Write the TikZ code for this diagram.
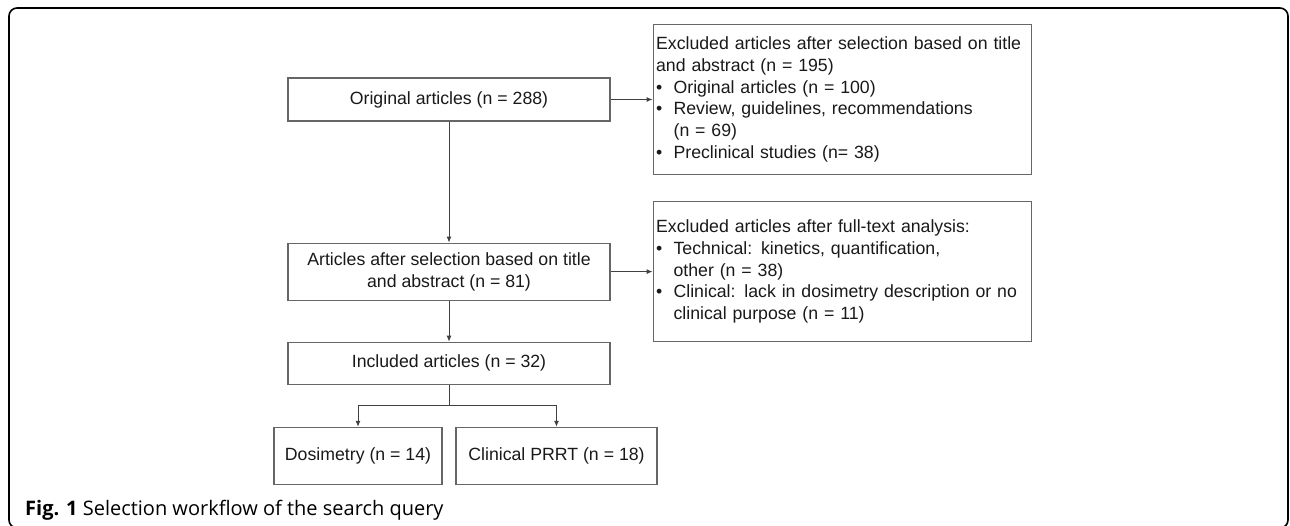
\documentclass[tikz,border=0pt]{standalone}
\usepackage{fontspec}
\setmainfont{Liberation Sans}
\newfontfamily\capfont{Open Sans}
\usetikzlibrary{positioning}
\usetikzlibrary{arrows.meta}

\newcommand{\itemline}[1]{\makebox[17.5pt][l]{\textbullet}#1}
\newcommand{\contline}[1]{\hspace*{17.5pt}#1}

\begin{document}
\begin{tikzpicture}[x=1pt,y=-1pt,node distance=42pt,
		box/.style={draw=black!60,line width=1.1pt,rectangle,minimum width=322pt,align=center,text=black!90,font=\fontsize{17.7}{21.7}\selectfont},
		excl/.style={box,align=left,text width=372pt,inner xsep=3pt},
		flow/.style={-{Latex[length=6pt,width=5pt]},draw=black!75,line width=0.9pt}]
		\useasboundingbox (0,0) rectangle (1290,525);
		\draw[line width=1.6pt,rounded corners=8pt] (9,8) rectangle (1288,528);
		\node (orig) [box,minimum height=43pt] at (449,99.5) {Original articles (n = 288)};
		\node (exc1) [excl,minimum height=150pt,right=of orig] {Excluded articles after selection based on title\\and abstract (n = 195)\\\itemline{Original articles (n = 100)}\\\itemline{Review, guidelines, recommendations}\\\contline{(n = 69)}\\\itemline{Preclinical studies (n= 38)}};
		\node (sel)  [box,minimum height=57pt,below=121pt of orig] {Articles after selection based on title\\and abstract (n = 81)};
		\node (exc2) [excl,minimum height=140pt,right=of sel] {Excluded articles after full-text analysis:\\\itemline{Technical: kinetics, quantification,}\\\contline{other (n = 38)}\\\itemline{Clinical: lack in dosimetry description or no}\\\contline{clinical purpose (n = 11)}};
		\node (incl) [box,minimum height=42pt,below=41pt of sel] {Included articles (n = 32)};
		\node (dos)  [box,minimum width=168pt,minimum height=57pt,below=42pt of incl,xshift=-91pt] {Dosimetry (n = 14)};
		\node (clin) [box,minimum width=201pt,minimum height=57pt,below=42pt of incl,xshift=107.5pt] {Clinical PRRT (n = 18)};
		\node (cap)  [anchor=base west,inner sep=0pt,font=\capfont\fontsize{20}{23}\selectfont] at (25,515) {\textbf{Fig. 1} Selection workflow of the search query};
		\draw (orig) edge[flow] (exc1);
		\draw (orig) edge[flow] (sel);
		\draw (sel) edge[flow] (exc2);
		\draw (sel) edge[flow] (incl);
		\draw[flow] (incl.south) -- ++(0,21) -| (dos.north);
		\draw[flow] (incl.south) -- ++(0,21) -| (clin.north);
	\end{tikzpicture}
\end{document}
